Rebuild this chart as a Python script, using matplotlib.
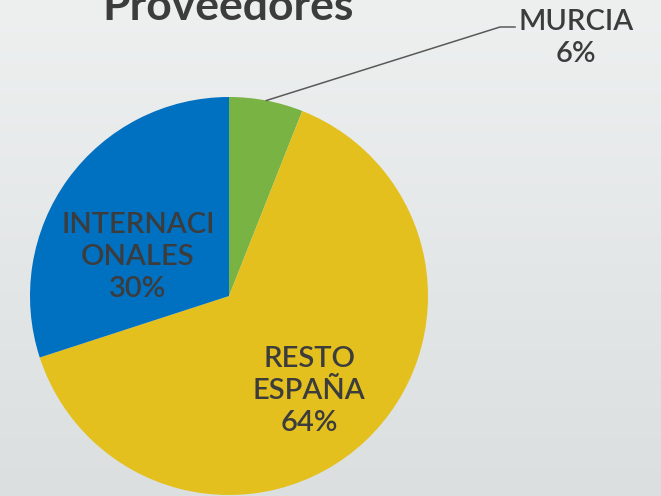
"""Pie chart of suppliers by origin (Proveedores)."""

import numpy as np
import matplotlib.pyplot as plt
from matplotlib.colors import LinearSegmentedColormap

labels = ["MURCIA", "RESTO\nESPAÑA", "INTERNACI\nONALES"]
values = [6, 64, 30]
colors = ["#79B343", "#E3C01E", "#0070C0"]
title = "Proveedores"

W, H = 661, 496
TEXT = "#3C3C3C"
plt.rcParams["font.family"] = ["Lato", "DejaVu Sans"]

fig = plt.figure(figsize=(W / 100, H / 100), dpi=100)
ax = fig.add_axes([0, 0, 1, 1])

# soft grey gradient background
bg = LinearSegmentedColormap.from_list("bg", ["#DBDFE0", "#EEF0F0"])
grad = np.linspace(0, 1, 256).reshape(-1, 1)
ax.imshow(grad, extent=[0, W, 0, H], origin="lower", cmap=bg, aspect="auto", zorder=0)

cx, cy, r = 229, H - 296, 199
wedges, _ = ax.pie(values, colors=colors, startangle=90, counterclock=False,
                   center=(cx, cy), radius=r, frame=True,
                   wedgeprops=dict(linewidth=0))
ax.set_xlim(0, W)
ax.set_ylim(0, H)
ax.set_aspect("equal")
ax.axis("off")

# labels inside the big wedges
lbl_pos = [None, (309, H - 391), (138, H - 257)]
for lab, val, pos in zip(labels, values, lbl_pos):
    if pos is None:
        continue
    ax.text(pos[0], pos[1], f"{lab}\n{val}%", ha="center", va="center",
            fontsize=21, fontweight="semibold", color=TEXT, linespacing=1.3, zorder=5)

# Murcia label outside with leader line
w = wedges[0]
mid = np.deg2rad((w.theta1 + w.theta2) / 2)
ex, ey = cx + r * np.cos(mid), cy + r * np.sin(mid)
ax.plot([ex, 500, 515], [ey, H - 27, H - 27], color="#595959", lw=1.1, zorder=4)
ax.text(576, H - 38, f"{labels[0]}\n{values[0]}%", ha="center", va="center",
        fontsize=21, fontweight="semibold", color=TEXT, linespacing=1.3, zorder=5)

ax.text(228, H - 20, title, ha="center", va="baseline", fontsize=32,
        fontweight="bold", color=TEXT, zorder=5)

fig.savefig("out.png", dpi=100)
